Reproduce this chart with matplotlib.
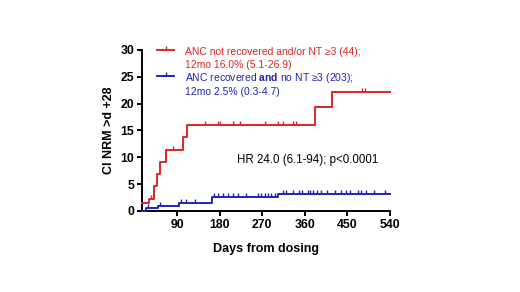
import matplotlib
matplotlib.use("Agg")
import matplotlib.pyplot as plt

plt.rcParams['font.family'] = ['Liberation Sans', 'DejaVu Sans']
plt.rcParams['mathtext.fontset'] = 'custom'
plt.rcParams['mathtext.rm'] = 'Liberation Sans'
plt.rcParams['mathtext.bf'] = 'Liberation Sans:bold'

# cumulative incidence steps (days, %)
red_days = [16, 31, 41, 47, 55, 66, 103, 111, 382, 417, 540]
red_ci = [1.5, 2.3, 4.6, 6.9, 9.1, 11.4, 13.7, 16.0, 19.4, 22.2, 22.2]
red_cens_days = [35, 82, 150, 176, 181, 208, 222, 275, 303, 314, 335, 341, 480, 488]
red_cens_ci = [2.3, 11.4, 16.0, 16.0, 16.0, 16.0, 16.0, 16.0, 16.0, 16.0, 16.0, 16.0, 22.2, 22.2]

blue_days = [16, 24, 50, 94, 164, 304, 540]
blue_ci = [0.0, 0.5, 1.0, 1.5, 2.6, 3.1, 3.1]
blue_cens_days = [29, 55, 99, 110, 127,
                  169, 176, 187, 197, 208, 218, 236, 261, 268, 275, 282, 289, 296,
                  313, 320, 336, 348, 353, 366, 371, 378, 385, 395, 406, 424,
                  437, 448, 455, 473, 479, 490, 506, 530]
blue_cens_ci = [0.5, 1.0, 1.5, 1.5, 1.5] + [2.6] * 13 + [3.1] * 20

red_label = ["ANC not recovered and/or NT \u22653 (44);", "12mo 16.0% (5.1-26.9)"]
blue_label = ["ANC recovered $\\mathbf{and}$ no NT \u22653 (203);", "12mo 2.5% (0.3-4.7)"]
hr_text = "HR 24.0 (6.1-94); p<0.0001"

red = '#e02424'
blue = '#2323b8'

fig = plt.figure(figsize=(5.2, 2.92), dpi=100)
ax = fig.add_axes([0.2731, 0.2774, 0.4769, 0.5514])

ax.step(red_days, red_ci, where='post', color=red, lw=1.4, clip_on=False, zorder=3)
ax.plot(red_cens_days, red_cens_ci, ls='none', marker=2, ms=3, mew=1.0, color=red, clip_on=False, zorder=3)
ax.step(blue_days, blue_ci, where='post', color=blue, lw=1.4, clip_on=False, zorder=3)
ax.plot(blue_cens_days, blue_cens_ci, ls='none', marker=2, ms=3, mew=1.0, color=blue, clip_on=False, zorder=3)

ax.set_xlim(16, 540)
ax.set_ylim(0, 30)
ax.set_xticks(range(90, 541, 90))
ax.set_yticks(range(0, 31, 5))
for s in ['top', 'right']:
    ax.spines[s].set_visible(False)
for s in ['left', 'bottom']:
    ax.spines[s].set_linewidth(1.4)
ax.tick_params(width=1.4, length=3.5, labelsize=8.8, pad=2)
for lab in ax.get_xticklabels() + ax.get_yticklabels():
    lab.set_fontweight('bold')
ax.set_xlabel("Days from dosing", fontsize=9, fontweight='bold', labelpad=9)
ax.set_ylabel("CI NRM >d +28", fontsize=9, fontweight='bold', labelpad=4)

# legend drawn by hand
for yh, col, lines, ys in [(1.0, red, red_label, (0.989, 0.905)),
                          (0.836, blue, blue_label, (0.824, 0.741))]:
    ax.plot([0.06, 0.129], [yh, yh], transform=ax.transAxes, color=col, lw=1.4, clip_on=False)
    ax.plot([0.095], [yh], transform=ax.transAxes, marker=2, ms=3, mew=1.0, color=col, clip_on=False)
    for txt, yt in zip(lines, ys):
        ax.text(0.173, yt, txt, transform=ax.transAxes, color=col, fontsize=7.5,
                ha='left', va='center')

ax.text(0.383, 0.317, hr_text, transform=ax.transAxes, fontsize=8.3, ha='left', va='center')

fig.savefig("out.png", dpi=100)
